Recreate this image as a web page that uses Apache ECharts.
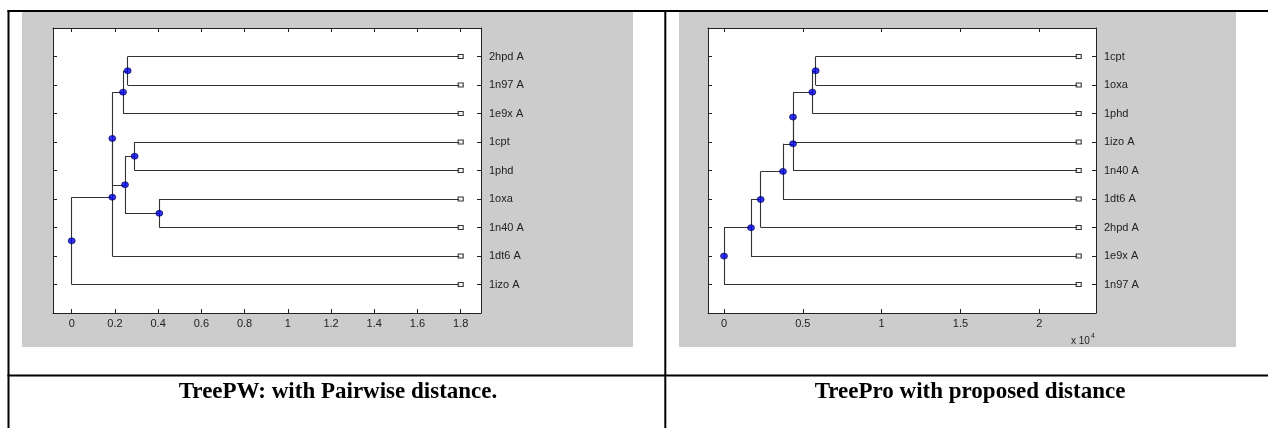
<!DOCTYPE html>
<html><head><meta charset="utf-8">
<script src="https://cdn.jsdelivr.net/npm/echarts@6/dist/echarts.min.js"></script>
<style>html,body{margin:0;padding:0;background:#fff}#c{width:1268px;height:428px}</style>
</head><body><div id="c"></div>
<script>
// ---- data ----
const leftLeaves = ['2hpd A','1n97 A','1e9x A','1cpt','1phd','1oxa','1n40 A','1dt6 A','1izo A'];
const leftMerges = [[0,1],[9,2],[3,4],[5,6],[11,12],[10,13],[14,7],[15,8]];
const leftHeights = [0.259,0.2375,0.291,0.4055,0.2467,0.188,0.188,0];
const leftLeafEnd = 1.8;
const leftTicks = [0,0.2,0.4,0.6,0.8,1,1.2,1.4,1.6,1.8];

const rightLeaves = ['1cpt','1oxa','1phd','1izo A','1n40 A','1dt6 A','2hpd A','1e9x A','1n97 A'];
const rightMerges = [[0,1],[9,2],[10,3],[11,4],[12,5],[13,6],[14,7],[15,8]];
const rightHeights = [0.5815,0.5603,0.4377,0.4377,0.3742,0.2326,0.1713,0];
const rightLeafEnd = 2.25;
const rightTicks = [0,0.5,1,1.5,2];

const captions = ['TreePW: with Pairwise distance.','TreePro with proposed distance'];
const scaleNote = ['x 10','4'];

// ---- layout of dendrogram from merges ----
function layout(leaves, merges, heights, leafEnd){
  const n = leaves.length;
  const X = [], Y = [];
  for (let i=0;i<n;i++){ X[i]=null; Y[i]=n-i; }
  const segs=[], nodes=[], ends=[];
  merges.forEach((m,k)=>{
    const id=n+k, h=heights[k];
    const ya=Y[m[0]], yb=Y[m[1]];
    segs.push({coords:[[h,ya],[h,yb]]});
    m.forEach(c=>{
      const x2 = c<n ? leafEnd : X[c];
      segs.push({coords:[[h,Y[c]],[x2,Y[c]]]});
    });
    X[id]=h; Y[id]=(ya+yb)/2;
    nodes.push([h,Y[id]]);
  });
  for(let i=0;i<n;i++) ends.push([leafEnd,Y[i]]);
  return {segs,nodes,ends};
}

const FONT = 'Liberation Sans, Arial, sans-serif';
const AX = '#222';

function makeAxes(gi, min, max, ticks, leaves){
  const n = leaves.length;
  const yT = leaves.map((_,i)=>n-i);
  const xa = [
    {gridIndex:gi, type:'value', position:'bottom', min, max,
     axisLine:{show:true,lineStyle:{color:AX,width:1}},
     axisTick:{show:true,inside:true,length:4,customValues:ticks,lineStyle:{color:AX}},
     axisLabel:{show:true,customValues:ticks,margin:5,fontSize:11,fontFamily:FONT,color:'#222'},
     splitLine:{show:false}},
    {gridIndex:gi, type:'value', position:'top', min, max,
     axisLine:{show:true,onZero:false,lineStyle:{color:AX,width:1}},
     axisTick:{show:true,inside:true,length:4,customValues:ticks,lineStyle:{color:AX}},
     axisLabel:{show:false}, splitLine:{show:false}}
  ];
  const ya = [
    {gridIndex:gi, type:'value', position:'left', min:0, max:10,
     axisLine:{show:true,onZero:false,lineStyle:{color:AX,width:1}},
     axisTick:{show:true,inside:true,length:4,customValues:yT,lineStyle:{color:AX}},
     axisLabel:{show:false}, splitLine:{show:false}},
    {gridIndex:gi, type:'value', position:'right', min:0, max:10,
     axisLine:{show:true,onZero:false,lineStyle:{color:AX,width:1}},
     axisTick:{show:true,inside:true,length:4,customValues:yT,lineStyle:{color:AX}},
     axisLabel:{show:true,customValues:yT,margin:8,fontSize:11,fontFamily:FONT,color:'#222',
       formatter:v=>leaves[n-Math.round(v)]||''},
     splitLine:{show:false}}
  ];
  return {xa,ya};
}

function makeSeries(gi, L){
  const xi = gi*2, yi = gi*2;
  return [
    {type:'lines', coordinateSystem:'cartesian2d', xAxisIndex:xi, yAxisIndex:yi,
     data:L.segs, lineStyle:{color:'#333',width:1.1,opacity:1}, z:2, silent:true},
    {type:'scatter', xAxisIndex:xi, yAxisIndex:yi, data:L.ends, symbol:'rect', symbolSize:[5,4],
     itemStyle:{color:'#fff',borderColor:'#000',borderWidth:1}, z:3, silent:true},
    {type:'scatter', xAxisIndex:xi, yAxisIndex:yi, data:L.nodes, symbol:'circle', symbolSize:[7,6],
     itemStyle:{color:'#0000f0',borderColor:'#000040',borderWidth:0.8}, z:4, silent:true}
  ];
}

const LL = layout(leftLeaves,leftMerges,leftHeights,leftLeafEnd);
const RL = layout(rightLeaves,rightMerges,rightHeights,rightLeafEnd);
const A0 = makeAxes(0,-0.0865,1.894,leftTicks,leftLeaves);
const A1 = makeAxes(1,-0.1015,2.3597,rightTicks,rightLeaves);

const chart = echarts.init(document.getElementById('c'), null, {renderer:'canvas'});
chart.setOption({
  animation:false,
  backgroundColor:'#fff',
  grid:[
    {left:53, top:28, width:428, height:285, show:true, backgroundColor:'#fff', borderWidth:0},
    {left:708, top:28, width:388, height:285, show:true, backgroundColor:'#fff', borderWidth:0}
  ],
  xAxis:[...A0.xa, ...A1.xa],
  yAxis:[...A0.ya, ...A1.ya],
  series:[...makeSeries(0,LL), ...makeSeries(1,RL)],
  graphic:[
    {type:'rect', z:-100, shape:{x:22,y:12,width:611,height:335}, style:{fill:'#cccccc'}},
    {type:'rect', z:-100, shape:{x:679,y:12,width:557,height:335}, style:{fill:'#cccccc'}},
    {type:'line', z:50, shape:{x1:7.5,y1:11,x2:1268,y2:11}, style:{stroke:'#000',lineWidth:2}},
    {type:'line', z:50, shape:{x1:8.5,y1:10,x2:8.5,y2:428}, style:{stroke:'#000',lineWidth:2}},
    {type:'line', z:50, shape:{x1:665.3,y1:10,x2:665.3,y2:428}, style:{stroke:'#000',lineWidth:2}},
    {type:'line', z:50, shape:{x1:7.5,y1:375.5,x2:1268,y2:375.5}, style:{stroke:'#000',lineWidth:2}},
    {type:'text', z:50, style:{text:captions[0], x:338, y:392, fill:'#000',
      font:'bold 23px "Liberation Serif", "Times New Roman", serif',
      align:'center', verticalAlign:'middle', textAlign:'center', textVerticalAlign:'middle'}},
    {type:'text', z:50, style:{text:captions[1], x:970, y:392, fill:'#000',
      font:'bold 23px "Liberation Serif", "Times New Roman", serif',
      align:'center', verticalAlign:'middle', textAlign:'center', textVerticalAlign:'middle'}},
    {type:'text', z:50, style:{text:scaleNote[0], x:1071, y:341, fill:'#222',
      font:'10px "Liberation Sans", Arial, sans-serif', align:'left', verticalAlign:'middle',
      textAlign:'left', textVerticalAlign:'middle'}},
    {type:'text', z:50, style:{text:scaleNote[1], x:1091, y:336, fill:'#222',
      font:'7px "Liberation Sans", Arial, sans-serif', align:'left', verticalAlign:'middle',
      textAlign:'left', textVerticalAlign:'middle'}}
  ]
});
</script></body></html>
